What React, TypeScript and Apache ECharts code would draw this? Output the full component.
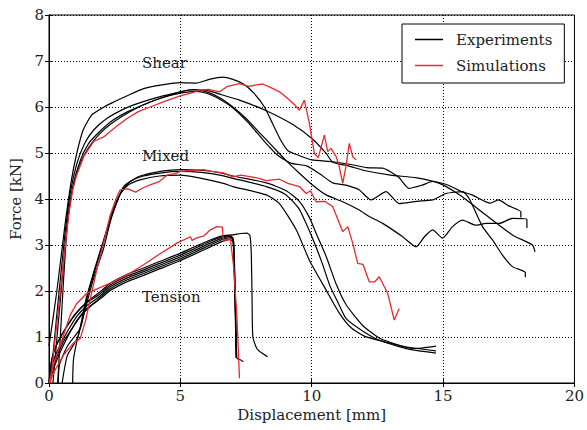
import React, { useEffect, useRef } from "react";
import * as echarts from "echarts";

// ---- Data (Displacement [mm], Force [kN]) ----
const shearExp1 = [[0,0.8],[0.3,2.0],[0.6,3.4],[0.85,4.4],[1.06,5.0],[1.3,5.5],[1.63,5.83],[2.0,5.97],[2.4,6.09],[3.0,6.25],[3.6,6.4],[4.3,6.48],[5.0,6.53],[5.6,6.52],[6.1,6.6],[6.6,6.65],[7.0,6.6],[7.4,6.5],[7.8,6.3],[8.2,6.0],[8.5,5.65],[8.8,5.3],[9.1,5.05],[9.5,4.95],[10.0,4.85],[10.8,4.81],[11.5,4.75],[12.1,4.68],[12.7,4.67],[13.3,4.48],[13.7,4.23],[14.2,4.3],[14.6,4.38],[15.2,4.3],[15.7,4.16],[16.1,4.09],[16.8,3.91],[17.1,3.98],[17.5,3.85],[17.96,3.72],[17.96,3.6]];
const shearExp2 = [[0.05,0],[0.3,1.5],[0.6,3.2],[0.8,4.1],[1.05,4.75],[1.35,5.2],[1.7,5.5],[2.2,5.75],[2.9,5.97],[3.5,6.1],[4.2,6.22],[4.8,6.3],[5.4,6.37],[6.0,6.36],[6.5,6.28],[7.25,6.15],[8.27,5.92],[9.28,5.62],[10.04,5.3],[10.55,4.99],[10.8,4.8],[11.4,4.72],[12.0,4.62],[13.0,4.52],[14.0,4.46],[14.86,4.34],[15.62,4.09],[16.63,3.65],[17.64,3.22],[18.4,3.0],[18.5,2.85]];
const shearExp3 = [[0.15,0],[0.4,1.6],[0.65,3.2],[0.9,4.25],[1.2,4.85],[1.5,5.2],[1.9,5.45],[2.4,5.7],[3.0,5.9],[3.6,6.05],[4.3,6.2],[5.0,6.33],[5.5,6.38],[6.0,6.33],[6.5,6.2],[7.0,6.0],[7.5,5.75],[8.0,5.45],[8.5,5.15],[9.0,4.85],[9.53,4.56],[10.04,4.3],[10.55,4.09],[11.18,3.94],[11.81,3.76],[12.19,3.62],[12.7,3.47],[13.46,3.18],[13.97,2.96],[14.29,3.18],[14.6,3.33],[14.98,3.15],[15.36,3.4],[15.74,3.54],[16.25,3.43],[16.63,3.47],[17.14,3.47],[17.64,3.58],[18.19,3.56],[18.19,3.37]];
const shearExp4 = [[0.33,0],[0.42,0.9],[0.55,2.2],[0.72,3.6],[0.95,4.35],[1.25,4.85],[1.55,5.15],[1.9,5.4],[2.4,5.65],[3.0,5.87],[3.6,6.05],[4.3,6.2],[5.0,6.3],[5.6,6.34],[6.0,6.3],[6.4,6.2],[7.0,5.98],[7.6,5.65],[8.2,5.25],[8.7,4.95],[9.2,4.78],[9.8,4.72],[10.3,4.55],[10.8,4.35],[11.3,4.3],[11.8,4.2],[12.26,3.98],[12.83,4.16],[13.33,3.9],[14.0,3.95],[14.6,3.98],[15.11,4.12],[15.74,4.16],[16.0,4.0],[16.5,3.4],[16.88,3.11],[17.26,2.78],[17.64,2.53],[18.13,2.4],[18.13,2.3]];

const mixedExp1 = [[0.9,0],[0.93,0.5],[1.06,0.9],[1.32,1.48],[1.7,2.28],[2.08,2.93],[2.33,3.5],[2.6,3.95],[2.84,4.27],[3.2,4.42],[3.47,4.5],[4.24,4.6],[5.0,4.64],[5.88,4.62],[6.5,4.57],[7.0,4.5],[8.27,4.35],[9.03,4.18],[9.53,3.95],[9.91,3.6],[10.17,3.25],[10.55,2.75],[10.93,2.15],[11.31,1.7],[11.94,1.25],[12.57,0.98],[13.33,0.82],[13.84,0.75],[14.2,0.76],[14.73,0.8]];
const mixedExp2 = [[0.35,0],[0.4,0.4],[0.7,0.8],[1.2,1.2],[1.45,1.85],[1.8,2.55],[2.15,3.2],[2.45,3.75],[2.75,4.15],[3.1,4.38],[3.6,4.5],[4.3,4.57],[5.0,4.6],[5.8,4.58],[6.5,4.52],[7.0,4.45],[8.27,4.27],[9.0,4.1],[9.5,3.8],[9.8,3.45],[10.1,3.05],[10.4,2.6],[10.7,2.1],[11.0,1.75],[11.31,1.4],[12.07,1.08],[12.57,0.93],[13.33,0.79],[13.84,0.72],[14.73,0.65]];
const mixedExp3 = [[0.5,0],[0.7,0.6],[1.1,1.0],[1.4,1.8],[1.75,2.5],[2.1,3.15],[2.4,3.7],[2.7,4.1],[3.0,4.3],[3.5,4.42],[4.2,4.5],[5.0,4.52],[5.8,4.45],[6.64,4.34],[7.0,4.27],[8.27,4.09],[8.77,3.9],[9.41,3.33],[9.91,2.67],[10.55,2.02],[11.05,1.52],[11.5,1.2],[12.0,1.02],[12.6,0.92],[13.3,0.82],[14.0,0.75],[14.73,0.7]];

const tensionExp1 = [[0,0],[0.2,0.35],[0.45,0.7],[0.75,1.05],[1.05,1.35],[1.4,1.6],[1.8,1.78],[2.33,2.05],[3.0,2.25],[3.6,2.38],[4.2,2.52],[4.87,2.67],[5.5,2.83],[6.14,3.0],[6.6,3.12],[6.9,3.16],[7.02,3.1],[7.06,2.4],[7.1,1.4],[7.13,0.55]];
const tensionExp2 = [[0,0],[0.15,0.45],[0.4,0.8],[0.7,1.12],[1.06,1.45],[1.44,1.68],[1.9,1.87],[2.33,2.09],[3.0,2.29],[3.6,2.42],[4.2,2.56],[4.87,2.71],[5.5,2.87],[6.14,3.04],[6.6,3.15],[6.9,3.19],[7.0,3.15],[7.05,2.6],[7.1,1.5],[7.15,0.54],[7.3,0.5],[7.4,0.46]];
const tensionExp3 = [[0,0],[0.1,0.5],[0.3,0.85],[0.65,1.2],[1.0,1.5],[1.4,1.73],[1.9,1.92],[2.33,2.13],[3.0,2.33],[3.6,2.46],[4.2,2.6],[4.87,2.75],[5.5,2.91],[6.14,3.08],[6.6,3.18],[6.9,3.2],[7.02,3.1],[7.08,2.2],[7.12,1.0],[7.14,0.6]];
const tensionExp4 = [[0,0],[0.12,0.55],[0.35,0.9],[0.7,1.25],[1.06,1.53],[1.44,1.76],[1.9,1.96],[2.33,2.17],[3.0,2.37],[3.6,2.5],[4.2,2.64],[4.87,2.79],[5.5,2.95],[6.14,3.11],[6.6,3.2],[7.0,3.22],[7.3,3.25],[7.53,3.26],[7.65,3.2],[7.7,2.8],[7.73,1.8],[7.76,1.0],[7.91,0.75],[8.1,0.65],[8.32,0.57]];
const tensionExp5 = [[0,0],[0.25,0.5],[0.55,0.9],[0.9,1.2],[1.2,1.45],[1.6,1.68],[2.0,1.85],[2.33,2.01],[3.0,2.21],[3.6,2.34],[4.2,2.48],[4.87,2.63],[5.5,2.79],[6.14,2.96],[6.6,3.08],[6.85,3.12],[7.0,3.08],[7.05,2.5],[7.1,1.2],[7.12,0.55]];

const shearSim = [[0.05,0],[0.3,1.3],[0.55,2.6],[0.75,3.65],[0.9,4.2],[1.04,4.5],[1.32,4.92],[1.7,5.25],[2.08,5.35],[2.5,5.55],[2.97,5.75],[3.4,5.9],[3.85,6.0],[4.4,6.12],[5.0,6.24],[5.4,6.3],[5.76,6.37],[6.1,6.38],[6.49,6.33],[6.8,6.45],[7.25,6.51],[7.6,6.45],[7.9,6.48],[8.14,6.5],[8.45,6.42],[8.77,6.33],[8.95,6.25],[9.15,6.15],[9.35,6.05],[9.53,5.93],[9.72,6.15],[9.91,5.65],[10.1,4.99],[10.25,4.9],[10.48,5.39],[10.61,5.03],[10.73,5.1],[10.93,4.92],[11.05,4.7],[11.18,4.34],[11.3,4.7],[11.43,5.21],[11.56,4.92],[11.69,4.85]];
const mixedSim = [[0,0],[0.25,0.3],[0.56,0.61],[0.9,0.85],[1.19,0.97],[1.38,1.33],[1.6,1.9],[1.83,2.49],[2.1,3.1],[2.33,3.65],[2.55,4.0],[2.71,4.2],[3.0,4.22],[3.3,4.15],[3.6,4.25],[3.9,4.32],[4.2,4.38],[4.5,4.52],[4.8,4.55],[5.0,4.6],[5.4,4.62],[5.88,4.64],[6.2,4.6],[6.64,4.57],[7.0,4.48],[7.3,4.52],[7.7,4.48],[8.0,4.45],[8.27,4.4],[8.77,4.43],[9.09,4.34],[9.53,4.27],[9.79,4.12],[9.95,4.18],[10.17,3.94],[10.5,3.95],[10.8,3.83],[11.0,3.55],[11.18,3.29],[11.37,3.4],[11.56,3.04],[11.75,2.6],[11.95,2.58],[12.19,2.2],[12.4,2.2],[12.57,2.31],[12.89,1.95],[13.14,1.37],[13.33,1.62]];
const tensionSim = [[0,0],[0.2,0.45],[0.43,0.83],[0.81,1.48],[1.06,1.73],[1.44,1.95],[2.33,2.17],[3.0,2.36],[3.6,2.57],[4.2,2.8],[4.87,3.04],[5.38,3.18],[5.45,3.1],[5.6,3.15],[5.9,3.2],[6.14,3.33],[6.39,3.4],[6.6,3.39],[6.64,3.07],[6.7,3.12],[6.8,3.1],[6.9,3.15],[7.02,2.57],[7.15,1.48],[7.25,0.1]];

const expCurves = [shearExp1, shearExp2, shearExp3, shearExp4, mixedExp1, mixedExp2, mixedExp3, tensionExp1, tensionExp2, tensionExp3, tensionExp4, tensionExp5];
const simCurves = [shearSim, mixedSim, tensionSim];
const groupLabels = ["Shear", "Mixed", "Tension"];
const legendNames = ["Experiments", "Simulations"];

const FONT = "DejaVu Serif";
const BLACK = "#000000";
const RED = "#e8282d";

export default function App() {
  const ref = useRef<HTMLDivElement>(null);
  useEffect(() => {
    if (!ref.current) return;
    const chart = echarts.init(ref.current, undefined, { renderer: "svg" });
    const series: any[] = [];
    expCurves.forEach((d) => {
      series.push({
        name: legendNames[0], type: "line", data: d, showSymbol: false, symbol: "none",
        smooth: 0.2, lineStyle: { color: BLACK, width: 1.2 }, itemStyle: { color: BLACK },
        xAxisIndex: 0, yAxisIndex: 0, z: 2,
      });
    });
    simCurves.forEach((d) => {
      series.push({
        name: legendNames[1], type: "line", data: d, showSymbol: false, symbol: "none",
        smooth: false, lineStyle: { color: RED, width: 1.3 }, itemStyle: { color: RED },
        xAxisIndex: 0, yAxisIndex: 0, z: 3,
      });
    });
    const labelPos = [64, 157, 298];
    const tickLabel = { fontFamily: FONT, fontSize: 15, color: "#222" };
    const dotted = { show: true, lineStyle: { color: BLACK, type: [1, 2], width: 1 } };
    chart.setOption({
      animation: false,
      backgroundColor: "#fff",
      grid: { left: 49, right: 12, top: 15, bottom: 47, show: true, borderColor: BLACK, borderWidth: 1, backgroundColor: "transparent" },
      legend: {
        data: legendNames, orient: "vertical", left: 402, top: 24,
        icon: "rect", itemWidth: 28, itemHeight: 1.5, itemGap: 11,
        padding: [8, 12, 10, 13],
        borderColor: BLACK, borderWidth: 1, backgroundColor: "#fff",
        textStyle: { fontFamily: FONT, fontSize: 15, color: "#222", padding: [0, 0, 0, 8] },
      },
      xAxis: [
        {
          type: "value", min: 0, max: 20, interval: 5, position: "bottom",
          name: "Displacement [mm]", nameLocation: "middle", nameGap: 21,
          nameTextStyle: { fontFamily: FONT, fontSize: 15, color: "#222" },
          axisLine: { show: true, lineStyle: { color: BLACK } },
          axisTick: { show: true, inside: true, length: 4, lineStyle: { color: BLACK } },
          axisLabel: { ...tickLabel, margin: 5 },
          splitLine: dotted,
        },
        {
          type: "value", min: 0, max: 20, interval: 5, position: "top",
          axisLine: { show: true, lineStyle: { color: BLACK } },
          axisTick: { show: true, inside: true, length: 4, lineStyle: { color: BLACK } },
          axisLabel: { show: false }, splitLine: { show: false },
        },
      ],
      yAxis: [
        {
          type: "value", min: 0, max: 8, interval: 1, position: "left",
          name: "Force [kN]", nameLocation: "middle", nameGap: 21,
          nameTextStyle: { fontFamily: FONT, fontSize: 15, color: "#222" },
          axisLine: { show: true, lineStyle: { color: BLACK } },
          axisTick: { show: true, inside: true, length: 4, lineStyle: { color: BLACK } },
          axisLabel: { ...tickLabel, margin: 5 },
          splitLine: dotted,
        },
        {
          type: "value", min: 0, max: 8, interval: 1, position: "right",
          axisLine: { show: true, lineStyle: { color: BLACK } },
          axisTick: { show: true, inside: true, length: 4, lineStyle: { color: BLACK } },
          axisLabel: { show: false }, splitLine: { show: false },
        },
      ],
      graphic: groupLabels.map((t, i) => ({
        type: "text", left: 142, top: labelPos[i] - 9, z: 10,
        style: { text: t, fontFamily: FONT, fontSize: 15, fill: "#222" },
      })),
      series,
    });
    return () => chart.dispose();
  }, []);
  return <div ref={ref} style={{ position: "fixed", left: 0, top: 0, width: 587, height: 430 }} />;
}
